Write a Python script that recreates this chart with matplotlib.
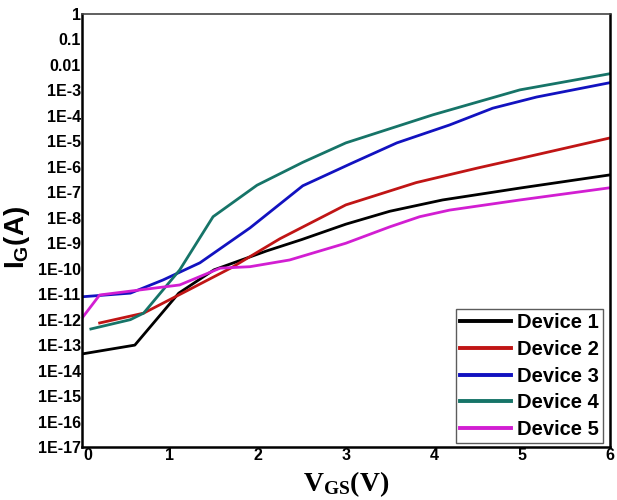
import matplotlib
matplotlib.use("Agg")
import matplotlib.pyplot as plt
import matplotlib.transforms as mtrans
from matplotlib.ticker import FixedLocator, FixedFormatter

# gate leakage current vs V_GS
labels = ["Device 1", "Device 2", "Device 3", "Device 4", "Device 5"]
colors = ["#000000", "#c01515", "#1212c0", "#167468", "#d21ed2"]

x_dev1 = [0.0, 0.6, 1.1, 1.5, 2.1, 2.5, 3.0, 3.5, 4.1, 5.0, 6.0]
i_dev1 = [4.5e-14, 1.0e-13, 1.1e-11, 9e-11, 5e-10, 1.4e-9, 5.6e-9, 1.8e-8, 5e-8, 1.5e-7, 4.8e-7]

x_dev2 = [0.2, 0.7, 1.2, 1.7, 2.25, 3.0, 3.8, 4.5, 5.0, 6.0]
i_dev2 = [7.4e-13, 1.8e-12, 1.4e-11, 1.1e-10, 1.5e-9, 3.2e-8, 2.4e-7, 9e-7, 2.2e-6, 1.35e-5]

x_dev3 = [0.0, 0.55, 0.92, 1.34, 1.91, 2.51, 3.05, 3.58, 4.18, 4.67, 5.17, 6.0]
i_dev3 = [7.9e-12, 1.1e-11, 3.6e-11, 1.7e-10, 4e-9, 1.8e-7, 1.3e-6, 8.7e-6, 4.4e-5, 2e-4, 5.5e-4, 2e-3]

x_dev4 = [0.1, 0.55, 0.7, 1.11, 1.49, 1.99, 2.51, 3.0, 3.99, 4.98, 6.0]
i_dev4 = [4.3e-13, 1e-12, 1.8e-12, 8.9e-11, 1.1e-8, 1.9e-7, 1.5e-6, 8.7e-6, 1.1e-4, 1.05e-3, 4.5e-3]

x_dev5 = [0.0, 0.2, 1.11, 1.57, 1.91, 2.36, 3.0, 3.5, 3.84, 4.18, 4.98, 6.0]
i_dev5 = [1.15e-12, 9.3e-12, 2.3e-11, 1.05e-10, 1.2e-10, 2.2e-10, 1e-9, 4.4e-9, 1.1e-8, 2e-8, 5e-8, 1.5e-7]

y_ticks = [10.0 ** -k for k in range(17, -1, -1)]
y_ticklabels = ["1E-%d" % k for k in range(17, 2, -1)] + ["0.01", "0.1", "1"]

plt.rcParams["font.family"] = ["Liberation Sans", "DejaVu Sans"]
plt.rcParams["font.weight"] = "bold"
plt.rcParams["mathtext.fontset"] = "custom"
plt.rcParams["mathtext.rm"] = "Liberation Serif:bold"
plt.rcParams["mathtext.bf"] = "Liberation Sans:bold"

fig = plt.figure(figsize=(6.17, 5.0), dpi=100)
ax = fig.add_axes([0.133, 0.106, 0.855, 0.866])

series = [(x_dev1, i_dev1), (x_dev2, i_dev2), (x_dev3, i_dev3),
          (x_dev4, i_dev4), (x_dev5, i_dev5)]
for (xs, ys), lab, col in zip(series, labels, colors):
    ax.plot(xs, ys, color=col, lw=2.0, label=lab)

ax.set_yscale("log")
ax.set_xlim(0, 6)
ax.set_ylim(1e-17, 1)
ax.yaxis.set_major_locator(FixedLocator(y_ticks))
ax.yaxis.set_major_formatter(FixedFormatter(y_ticklabels))
ax.yaxis.set_minor_locator(FixedLocator([]))
ax.set_xticks(range(7))
ax.tick_params(axis="both", length=0, labelsize=11.5)
ax.tick_params(axis="y", pad=1)
ax.tick_params(axis="x", pad=1)
for lbl in ax.get_xticklabels() + ax.get_yticklabels():
    lbl.set_fontweight("bold")
# nudge the "0" so it does not run into "1E-17"
zero = ax.get_xticklabels()[0]
zero.set_transform(zero.get_transform() +
                   mtrans.ScaledTranslation(4 / 72, 0, fig.dpi_scale_trans))

for side in ["left", "bottom", "right"]:
    ax.spines[side].set_linewidth(1.8)
ax.spines["top"].set_linewidth(1.2)
ax.spines["top"].set_color("#444444")

ax.set_ylabel(r"I$_\mathbf{G}$(A)", fontsize=20, fontweight="bold")
ax.yaxis.set_label_coords(-0.094, 0.483)
ax.set_xlabel(r"$\mathrm{V_{GS}(V)}$", fontsize=20, labelpad=4)

leg = ax.legend(loc="lower right", bbox_to_anchor=(0.987, 0.009),
                borderaxespad=0, fontsize=14.5, frameon=True, fancybox=False,
                edgecolor="#333333", handlelength=2.5, handletextpad=0.3,
                borderpad=0.2, labelspacing=0.38)
leg.get_frame().set_linewidth(1.0)
for h in leg.get_lines():
    h.set_linewidth(2.8)
for t in leg.get_texts():
    t.set_fontweight("bold")

fig.savefig("out.png", dpi=100)
